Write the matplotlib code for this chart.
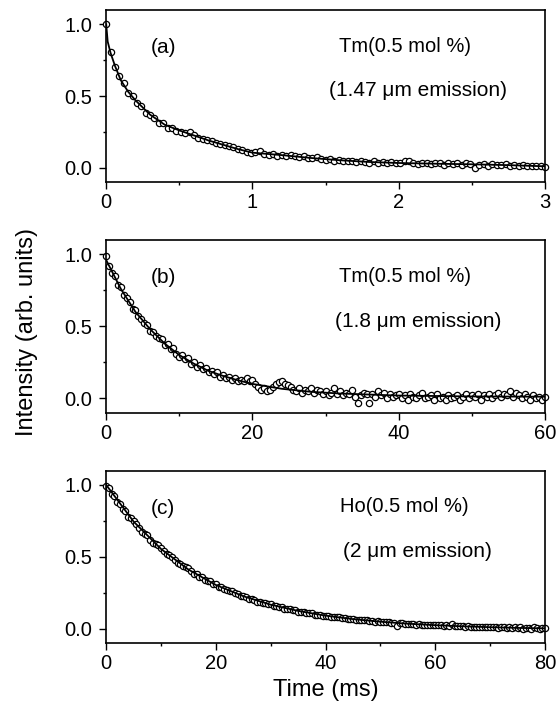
import numpy as np
import matplotlib
matplotlib.use('Agg')
import matplotlib.pyplot as plt
from matplotlib.ticker import MultipleLocator

plt.rcParams['font.family'] = ['Liberation Sans', 'DejaVu Sans']

# (a) Tm 1.47 um decay, 0-3 ms
t_a = np.linspace(0, 3, 101)
y_a = [1.00, 0.81, 0.70, 0.64, 0.59, 0.52, 0.50, 0.45, 0.43, 0.38,
       0.37, 0.35, 0.31, 0.31, 0.28, 0.275, 0.255, 0.25, 0.245, 0.25,
       0.225, 0.205, 0.20, 0.19, 0.185, 0.17, 0.165, 0.16, 0.15, 0.145,
       0.13, 0.125, 0.11, 0.105, 0.11, 0.12, 0.095, 0.09, 0.095, 0.085,
       0.09, 0.085, 0.09, 0.08, 0.075, 0.08, 0.07, 0.065, 0.075, 0.06,
       0.055, 0.06, 0.05, 0.055, 0.05, 0.045, 0.05, 0.04, 0.045, 0.04,
       0.035, 0.045, 0.035, 0.04, 0.03, 0.04, 0.035, 0.03, 0.05, 0.045,
       0.03, 0.025, 0.035, 0.03, 0.025, 0.035, 0.03, 0.02, 0.03, 0.025,
       0.03, 0.02, 0.03, 0.025, -0.005, 0.02, 0.025, 0.015, 0.025, 0.02,
       0.02, 0.025, 0.015, 0.02, 0.015, 0.02, 0.01, 0.015, 0.01, 0.015,
       0.005]
fit_t_a = [0, 0.01, 0.03, 0.06, 0.1, 0.15, 0.2, 0.25, 0.3, 0.4, 0.5, 0.6, 0.7,
           0.8, 0.9, 1.0, 1.2, 1.4, 1.6, 1.8, 2.0, 2.25, 2.5, 2.75, 3.0]
fit_y_a = [1.0, 0.88, 0.80, 0.71, 0.61, 0.53, 0.47, 0.42, 0.37, 0.30, 0.26, 0.225,
           0.19, 0.16, 0.13, 0.105, 0.088, 0.068, 0.052, 0.04, 0.033, 0.028,
           0.024, 0.018, 0.01]

# (b) Tm 1.8 um decay, 0-60 ms
t_b = np.linspace(0, 60, 151)
y_b = [0.99, 0.92, 0.87, 0.85, 0.79, 0.77, 0.72, 0.70, 0.67, 0.62,
       0.61, 0.57, 0.55, 0.52, 0.51, 0.47, 0.46, 0.43, 0.42, 0.41,
       0.37, 0.38, 0.34, 0.35, 0.31, 0.29, 0.30, 0.27, 0.28, 0.24,
       0.25, 0.22, 0.23, 0.20, 0.21, 0.18, 0.19, 0.17, 0.18, 0.15,
       0.16, 0.14, 0.15, 0.13, 0.14, 0.12, 0.13, 0.12, 0.14, 0.12,
       0.13, 0.10, 0.08, 0.06, 0.07, 0.05, 0.06, 0.08, 0.10, 0.11,
       0.12, 0.10, 0.09, 0.08, 0.06, 0.05, 0.07, 0.04, 0.06, 0.05,
       0.07, 0.04, 0.06, 0.05, 0.03, 0.05, 0.02, 0.04, 0.07, 0.03,
       0.05, 0.02, 0.04, 0.03, 0.06, 0.01, -0.03, 0.02, 0.04, 0.03,
       -0.03, 0.03, 0.01, 0.05, 0.02, 0.04, 0.00, 0.03, 0.01, 0.02,
       0.03, 0.00, 0.02, -0.01, 0.03, 0.01, 0.00, 0.02, 0.04, 0.00,
       0.01, 0.02, -0.01, 0.03, 0.00, 0.01, -0.01, 0.02, 0.00, 0.01,
       0.02, -0.01, 0.01, 0.03, 0.00, 0.02, 0.01, 0.03, -0.01, 0.02,
       0.01, 0.03, 0.00, 0.02, 0.04, 0.01, 0.03, 0.02, 0.05, 0.01,
       0.04, 0.02, 0.00, 0.03, 0.01, -0.01, 0.02, 0.00, 0.01, -0.01,
       0.01]
fit_t_b = [0, 2, 4, 6, 8, 10, 12, 14, 16, 18, 20, 24, 28, 32, 40, 50, 60]
fit_y_b = [0.96, 0.76, 0.60, 0.48, 0.38, 0.30, 0.24, 0.19, 0.155, 0.125, 0.10,
           0.066, 0.045, 0.033, 0.019, 0.013, 0.011]

# (c) Ho 2 um decay, 0-80 ms
t_c = np.linspace(0, 80, 161)
y_c = [0.99, 0.98, 0.94, 0.92, 0.88, 0.87, 0.83, 0.82, 0.78, 0.77,
       0.75, 0.73, 0.70, 0.67, 0.66, 0.65, 0.62, 0.60, 0.59, 0.58,
       0.56, 0.54, 0.52, 0.51, 0.50, 0.48, 0.46, 0.45, 0.44, 0.43,
       0.42, 0.40, 0.38, 0.38, 0.36, 0.36, 0.34, 0.33, 0.33, 0.31,
       0.31, 0.29, 0.29, 0.28, 0.27, 0.26, 0.26, 0.25, 0.24, 0.23,
       0.23, 0.22, 0.21, 0.21, 0.20, 0.19, 0.19, 0.18, 0.18, 0.17,
       0.17, 0.16, 0.16, 0.15, 0.15, 0.14, 0.14, 0.14, 0.13, 0.13,
       0.12, 0.12, 0.12, 0.11, 0.11, 0.11, 0.10, 0.10, 0.10, 0.09,
       0.09, 0.09, 0.085, 0.085, 0.08, 0.08, 0.075, 0.075, 0.07, 0.07,
       0.07, 0.065, 0.065, 0.06, 0.06, 0.06, 0.055, 0.055, 0.05, 0.055,
       0.05, 0.05, 0.045, 0.045, 0.04, 0.04, 0.02, 0.04, 0.04, 0.035,
       0.035, 0.035, 0.035, 0.03, 0.035, 0.03, 0.03, 0.03, 0.025, 0.03,
       0.025, 0.025, 0.025, 0.02, 0.025, 0.02, 0.035, 0.02, 0.02, 0.02,
       0.02, 0.015, 0.02, 0.015, 0.015, 0.01, 0.015, 0.01, 0.015, 0.01,
       0.01, 0.015, 0.01, 0.005, 0.01, 0.01, 0.005, 0.01, 0.005, 0.01,
       0.005, 0.01, 0.0, 0.005, 0.005, 0.0, 0.01, 0.005, 0.0, 0.005,
       0.005]
fit_t_c = [0, 5, 10, 15, 20, 25, 30, 35, 40, 45, 50, 55, 60, 65, 70, 75, 80]
fit_y_c = [1.00, 0.745, 0.555, 0.412, 0.305, 0.227, 0.168, 0.125, 0.092, 0.068,
           0.050, 0.036, 0.026, 0.018, 0.012, 0.007, 0.004]

panel_labels = ['(a)', '(b)', '(c)']
ion_labels = ['Tm(0.5 mol %)', 'Tm(0.5 mol %)', 'Ho(0.5 mol %)']
emission_labels = ['(1.47 μm emission)', '(1.8 μm emission)', '(2 μm emission)']

fig = plt.figure(figsize=(5.59, 7.14), dpi=100)
boxes = [[0.19, 0.745, 0.785, 0.241],
         [0.19, 0.422, 0.785, 0.242],
         [0.19, 0.099, 0.785, 0.242]]
panels = [(t_a, y_a, fit_t_a, fit_y_a, 3, 1, 0.5),
          (t_b, y_b, fit_t_b, fit_y_b, 60, 20, 10),
          (t_c, y_c, fit_t_c, fit_y_c, 80, 20, 10)]

for i, (t, y, ft, fy, xmax, major, minor) in enumerate(panels):
    ax = fig.add_axes(boxes[i])
    ax.plot(t, y, 'o', ms=4.5, mfc='white', mec='black', mew=0.9,
            clip_on=False, zorder=2)
    ax.plot(ft, fy, '-', color='black', lw=1.3, zorder=3)
    ax.set_xlim(0, xmax)
    ax.set_ylim(-0.1, 1.1)
    ax.xaxis.set_major_locator(MultipleLocator(major))
    ax.xaxis.set_minor_locator(MultipleLocator(minor))
    ax.yaxis.set_major_locator(MultipleLocator(0.5))
    ax.yaxis.set_minor_locator(MultipleLocator(0.25))
    ax.yaxis.set_major_formatter(plt.FormatStrFormatter('%.1f'))
    ax.tick_params(which='major', direction='out', length=5, width=1,
                   labelsize=14.5, top=False, right=False)
    ax.tick_params(which='minor', direction='out', length=2.5, width=1,
                   top=False, right=False)
    ax.tick_params(axis='y', pad=5)
    ax.tick_params(axis='x', pad=3)
    for s in ax.spines.values():
        s.set_linewidth(1.2)
    ax.text(0.13, 0.78, panel_labels[i], transform=ax.transAxes,
            fontsize=15, ha='center', va='center')
    ax.text(0.68, 0.79, ion_labels[i], transform=ax.transAxes,
            fontsize=14.5, ha='center', va='center')
    ax.text(0.71, 0.53, emission_labels[i], transform=ax.transAxes,
            fontsize=15, ha='center', va='center')
    if i == 2:
        ax.set_xlabel('Time (ms)', fontsize=17, labelpad=4)

fig.text(0.048, 0.535, 'Intensity (arb. units)', rotation=90,
         fontsize=17, ha='center', va='center')

plt.savefig('out.png', dpi=100)
